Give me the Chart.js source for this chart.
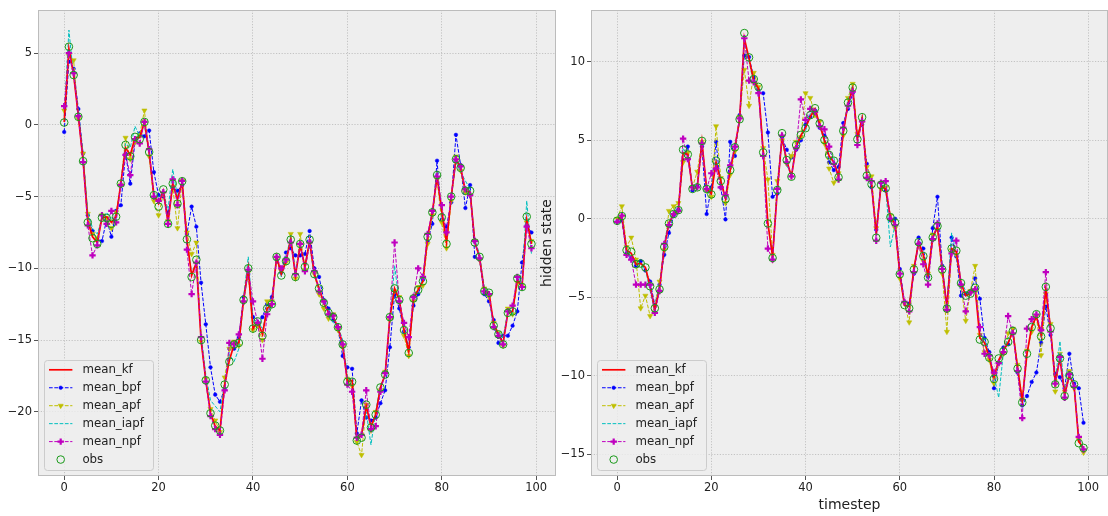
<!DOCTYPE html>
<html>
<head>
<meta charset="utf-8">
<script src="https://cdn.jsdelivr.net/npm/chart.js@4.4.0/dist/chart.umd.min.js"></script>
<style>
  html, body { margin: 0; padding: 0; background: #ffffff; overflow: hidden; }
  #wrap { position: relative; width: 1108px; height: 516px; }
  canvas { position: absolute; top: 0; }
  #chart-left { left: 0; }
  #chart-right { left: 535px; }
</style>
</head>
<body>
<div id="wrap">
  <canvas id="chart-left" width="556" height="516" style="width:556px;height:516px"></canvas>
  <canvas id="chart-right" width="573" height="516" style="width:573px;height:516px"></canvas>
</div>
<script>
// ------------------- data -------------------
const timesteps = Array.from({ length: 100 }, (_, i) => i);
const x_ticks = [0, 20, 40, 60, 80, 100];
const left_y_ticks = [-20, -15, -10, -5, 0, 5];
const right_y_ticks = [-15, -10, -5, 0, 5, 10];
const series_names = ["mean_kf", "mean_bpf", "mean_apf", "mean_iapf", "mean_npf", "obs"];

// left panel
const left_kf = [
  0.2, 5.3, 3.5, 0.6, -2.5, -6.7, -7.8, -8.2, -6.5, -6.4,
  -6.8, -6.4, -4.1, -1.6, -2.1, -0.9, -0.9, 0.2, -1.9, -4.9,
  -5.5, -4.6, -6.8, -4.1, -5.2, -4.0, -8.0, -10.5, -9.6, -15.0,
  -17.8, -20.1, -21.0, -21.3, -18.1, -16.4, -15.3, -15.2, -12.2, -10.0,
  -14.2, -13.7, -14.6, -12.8, -12.5, -9.2, -10.4, -9.5, -8.0, -10.5,
  -8.4, -9.9, -8.1, -10.4, -11.4, -12.4, -13.1, -13.4, -14.1, -15.3,
  -17.9, -17.8, -21.9, -21.6, -19.6, -21.0, -20.2, -18.3, -17.4, -13.4,
  -11.4, -12.2, -14.3, -15.8, -12.1, -11.5, -10.9, -7.8, -6.1, -3.6,
  -6.0, -8.2, -5.0, -2.4, -3.0, -4.6, -4.7, -8.2, -9.2, -11.6,
  -11.7, -13.9, -14.6, -15.2, -13.1, -13.0, -10.8, -11.3, -6.6, -8.3
];
const left_bpf = [
  -0.5, 4.4, 3.9, 1.1, -2.0, -6.3, -7.4, -8.0, -8.1, -6.6,
  -7.8, -6.0, -5.6, -2.0, -4.1, -1.2, -0.6, -0.8, -0.4, -3.3,
  -4.9, -5.0, -6.2, -4.4, -4.6, -4.2, -7.6, -5.7, -7.1, -11.0,
  -13.9, -16.9, -18.8, -19.3, -18.4, -15.6, -15.6, -14.8, -12.0, -10.4,
  -13.4, -14.0, -13.4, -12.5, -12.0, -9.4, -10.3, -8.9, -8.6, -9.1,
  -9.1, -9.0, -7.4, -10.0, -10.6, -12.2, -12.8, -13.6, -14.2, -16.1,
  -16.9, -17.0, -21.5, -19.2, -20.4, -20.6, -20.4, -19.4, -18.5, -15.5,
  -11.8, -12.8, -14.4, -15.5, -12.6, -11.8, -10.8, -8.1, -6.9, -2.5,
  -6.6, -7.1, -5.4, -0.7, -2.8, -5.8, -4.2, -9.2, -9.4, -11.8,
  -12.3, -13.6, -15.2, -14.7, -14.7, -14.0, -13.0, -9.6, -7.0, -7.5
];
const left_apf = [
  1.0, 4.8, 4.5, 0.4, -2.0, -6.2, -7.6, -7.9, -6.3, -6.5,
  -7.2, -6.1, -4.2, -0.9, -2.4, -1.2, -0.7, 1.0, -2.2, -5.3,
  -6.3, -4.8, -6.7, -4.3, -7.2, -3.9, -7.5, -9.0, -8.2, -15.1,
  -17.7, -19.8, -20.6, -21.4, -17.6, -15.6, -15.1, -15.4, -12.4, -10.3,
  -14.3, -14.0, -15.0, -12.3, -12.3, -9.3, -10.2, -9.6, -7.6, -10.7,
  -7.6, -10.1, -8.3, -10.4, -11.8, -12.8, -13.5, -13.2, -14.3, -15.5,
  -17.7, -18.2, -22.1, -23.0, -19.5, -21.3, -20.0, -18.5, -17.2, -13.6,
  -11.6, -12.0, -14.7, -16.1, -12.3, -11.3, -11.2, -8.3, -6.3, -3.8,
  -6.8, -8.6, -5.3, -2.2, -3.2, -4.7, -4.9, -8.1, -9.4, -11.4,
  -12.0, -13.8, -14.5, -15.4, -12.8, -13.2, -11.0, -11.2, -6.8, -8.1
];
const left_iapf = [
  0.6, 6.6, 3.3, 1.0, -2.2, -6.1, -7.2, -7.6, -6.6, -6.1,
  -6.5, -6.6, -4.0, -1.3, -1.6, -0.1, -0.8, 0.0, -2.1, -4.7,
  -5.0, -4.7, -5.9, -3.1, -5.0, -4.1, -8.2, -10.3, -9.6, -14.6,
  -17.4, -19.2, -19.6, -20.0, -18.0, -16.0, -16.5, -15.6, -12.0, -9.2,
  -13.8, -13.5, -14.3, -12.9, -12.7, -9.0, -10.6, -9.3, -7.7, -10.2,
  -8.5, -9.7, -8.4, -10.6, -11.3, -12.6, -13.0, -13.8, -14.0, -15.0,
  -17.5, -18.0, -21.6, -21.7, -20.0, -22.3, -20.0, -18.1, -17.6, -13.8,
  -9.8, -12.4, -14.2, -15.7, -12.0, -11.6, -10.6, -7.6, -6.3, -3.2,
  -6.2, -7.9, -5.1, -2.6, -3.3, -3.9, -4.5, -8.0, -9.0, -11.3,
  -11.9, -14.3, -14.4, -14.8, -13.0, -13.2, -10.5, -11.0, -5.3, -9.0
];
const left_npf = [
  1.3, 5.0, 3.6, 0.6, -2.6, -7.0, -9.1, -8.4, -6.3, -6.9,
  -6.0, -6.8, -4.2, -2.1, -3.5, -1.0, -1.3, 0.2, -1.7, -5.0,
  -5.3, -4.7, -6.9, -3.8, -5.6, -3.9, -8.7, -11.8, -9.6, -14.8,
  -17.9, -20.3, -21.2, -21.6, -18.5, -15.2, -15.3, -14.6, -12.3, -10.1,
  -12.3, -13.8, -16.3, -13.2, -12.5, -9.2, -10.0, -9.4, -8.2, -10.4,
  -8.3, -10.2, -8.2, -10.2, -11.6, -12.3, -13.2, -13.3, -14.1, -15.3,
  -18.1, -18.6, -21.8, -21.6, -18.5, -21.2, -21.0, -18.6, -17.3, -13.4,
  -8.2, -12.3, -13.8, -14.8, -12.0, -10.0, -10.6, -7.6, -6.0, -3.6,
  -5.6, -7.5, -5.0, -2.4, -2.9, -4.5, -4.9, -8.1, -9.3, -11.6,
  -11.8, -14.1, -14.7, -15.3, -13.0, -12.6, -10.6, -11.3, -7.1, -8.6
];
const left_obs = [
  0.16, 5.44, 3.47, 0.56, -2.53, -6.8, -7.9, -8.3, -6.47, -6.5,
  -6.9, -6.4, -4.1, -1.4, -2.2, -0.84, -1.0, 0.2, -1.9, -4.9,
  -5.7, -4.5, -6.9, -4.1, -5.5, -3.93, -7.98, -10.6, -9.4, -15.0,
  -17.8, -20.1, -20.96, -21.3, -18.1, -16.5, -15.3, -15.2, -12.2, -10.0,
  -14.2, -13.7, -14.7, -12.8, -12.5, -9.2, -10.5, -9.5, -8.0, -10.6,
  -8.3, -9.9, -8.0, -10.4, -11.4, -12.4, -13.1, -13.4, -14.1, -15.3,
  -17.9, -17.9, -22.0, -21.8, -19.5, -21.1, -20.2, -18.3, -17.4, -13.4,
  -11.4, -12.2, -14.3, -15.9, -12.1, -11.5, -10.9, -7.8, -6.1, -3.5,
  -6.45, -8.3, -5.0, -2.4, -3.0, -4.6, -4.6, -8.2, -9.2, -11.6,
  -11.7, -14.0, -14.6, -15.3, -13.1, -13.0, -10.7, -11.3, -6.4, -8.3
];

// right panel
const right_kf = [
  -0.1, 0.15, -2.0, -2.2, -2.9, -2.85, -3.1, -4.3, -5.8, -4.5,
  -1.8, -0.3, 0.3, 0.55, 4.2, 4.1, 1.9, 2.0, 4.9, 1.9,
  1.6, 3.6, 2.4, 1.3, 3.1, 4.6, 6.3, 11.5, 10.2, 8.8,
  8.3, 4.3, -0.3, -2.4, 1.8, 5.2, 3.7, 2.7, 4.6, 5.3,
  5.8, 6.5, 7.0, 6.0, 5.0, 4.0, 3.6, 2.7, 5.5, 7.3,
  8.3, 5.1, 6.4, 2.8, 2.2, -1.0, 2.1, 1.9, 0.1, -0.3,
  -3.5, -5.5, -5.6, -3.2, -1.5, -2.3, -3.6, -1.2, -0.5, -3.2,
  -5.6, -1.9, -2.1, -4.1, -4.9, -4.8, -4.4, -7.6, -7.9, -8.8,
  -10.1, -9.0, -8.4, -7.9, -7.2, -9.5, -11.6, -8.6, -6.9, -6.2,
  -7.4, -4.5, -7.0, -10.4, -8.9, -11.2, -10.0, -10.6, -14.2, -14.6
];
const right_bpf = [
  -0.2, -0.1, -2.2, -2.5, -3.0, -2.7, -3.3, -4.0, -5.5, -4.2,
  -2.3, -0.9, 0.2, 0.6, 3.7, 4.6, 1.8, 2.1, 4.6, 0.3,
  2.0, 4.9, 2.0, -0.04, 4.9, 4.0, 6.6, 10.4, 10.3, 9.0,
  8.2, 8.0, 5.5, 1.4, 1.6, 5.2, 4.4, 3.9, 4.4, 5.0,
  6.0, 6.5, 6.9, 5.8, 5.3, 3.6, 3.1, 3.3, 6.1, 7.0,
  8.0, 5.3, 6.0, 3.5, 2.0, -0.7, 2.3, 1.8, -0.1, 0.0,
  -3.2, -5.3, -5.4, -3.5, -1.2, -1.9, -3.7, -0.6, 1.4, -3.0,
  -5.6, -1.2, -2.4, -4.9, -4.8, -4.6, -3.8, -5.1, -7.6, -8.5,
  -10.8, -9.2, -8.2, -8.0, -7.0, -9.8, -11.9, -11.3, -10.4, -9.8,
  -7.9, -5.6, -7.4, -9.9, -10.1, -10.8, -8.6, -10.5, -10.8, -13.0
];
const right_apf = [
  0.0, 0.8, -1.8, -1.2, -2.6, -5.7, -4.9, -6.2, -5.6, -4.0,
  -2.0, 0.5, 0.8, 1.0, 3.6, 4.2, 2.0, 3.0, 4.9, 1.8,
  1.4, 5.9, 2.6, 1.0, 2.8, 4.3, 6.5, 9.5, 7.2, 9.3,
  8.4, 4.5, 2.5, -2.3, 2.4, 5.0, 3.5, 4.0, 4.9, 5.2,
  8.0, 7.7, 6.6, 6.2, 4.8, 3.2, 2.3, 2.9, 5.3, 7.7,
  8.6, 5.4, 6.1, 3.3, 2.7, -0.6, 1.9, 2.0, 0.2, -0.6,
  -3.8, -5.4, -6.6, -3.0, -1.7, -2.7, -3.5, -1.0, -0.7, -3.5,
  -7.2, -2.0, -2.3, -4.3, -6.5, -4.6, -3.0, -7.4, -8.5, -9.0,
  -10.5, -9.2, -8.6, -7.3, -7.0, -9.3, -11.5, -8.4, -7.2, -6.2,
  -8.7, -4.8, -6.7, -11.0, -8.6, -11.0, -9.7, -10.8, -14.1, -14.9
];
const right_iapf = [
  -0.2, 0.3, -2.1, -2.3, -2.9, -3.0, -3.2, -4.6, -5.9, -4.3,
  -1.5, -0.2, 0.4, 0.6, 4.5, 4.0, 1.9, 2.2, 4.9, 1.7,
  1.6, 3.8, 2.5, 1.2, 3.3, 4.7, 6.1, 11.3, 10.0, 8.6,
  8.1, 4.1, -0.4, -2.4, 2.1, 5.3, 3.4, 2.8, 4.8, 5.4,
  5.6, 6.7, 7.1, 5.9, 4.9, 4.3, 3.9, 2.6, 5.6, 7.5,
  8.5, 5.0, 6.6, 2.5, 2.1, -0.9, 2.2, 2.0, -1.8, -0.4,
  -3.4, -5.6, -5.5, -3.3, -1.4, -2.4, -3.8, -1.3, -0.4, -3.0,
  -5.5, -0.9, -2.1, -4.0, -4.6, -4.9, -4.5, -7.3, -7.6, -8.8,
  -10.0, -11.4, -8.5, -7.6, -7.3, -9.4, -11.8, -8.7, -6.8, -6.1,
  -7.6, -4.3, -7.1, -10.3, -7.8, -11.2, -9.8, -10.6, -14.0, -14.9
];
const right_npf = [
  -0.2, 0.2, -2.3, -2.6, -4.2, -4.2, -4.2, -4.2, -6.0, -4.6,
  -1.6, -0.4, 0.3, 0.5, 5.1, 3.8, 2.0, 2.0, 4.8, 1.9,
  2.9, 3.2, 2.0, 1.5, 3.4, 4.6, 6.4, 11.5, 8.8, 8.7,
  8.0, 4.0, -1.9, -2.6, 1.9, 5.3, 3.6, 2.7, 4.5, 7.6,
  6.3, 7.0, 6.8, 5.9, 5.7, 4.6, 3.5, 2.5, 5.8, 7.2,
  8.1, 4.7, 6.2, 2.6, 2.4, -1.4, 2.3, 2.4, 0.0, -0.4,
  -3.5, -5.3, -5.9, -3.4, -1.6, -2.9, -4.2, -1.3, -0.3, -3.2,
  -5.8, -2.2, -1.4, -4.2, -5.9, -4.7, -4.5, -6.9, -8.6, -8.7,
  -9.8, -9.2, -8.5, -6.2, -7.3, -9.7, -12.7, -7.0, -6.4, -6.1,
  -7.1, -3.4, -7.2, -10.5, -8.8, -11.4, -9.9, -10.7, -13.9, -14.7
];
const right_obs = [
  -0.13, 0.17, -2.0, -2.1, -2.9, -2.85, -3.1, -4.3, -5.7, -4.5,
  -1.8, -0.3, 0.3, 0.55, 4.4, 4.1, 1.9, 2.0, 4.96, 1.9,
  1.55, 3.7, 2.4, 1.25, 3.1, 4.55, 6.34, 11.83, 10.28, 8.9,
  8.4, 4.23, -0.3, -2.5, 1.83, 5.45, 3.74, 2.68, 4.7, 5.34,
  5.77, 6.6, 7.04, 6.08, 5.02, 4.06, 3.7, 2.64, 5.6, 7.4,
  8.36, 5.06, 6.47, 2.74, 2.2, -1.21, 2.15, 1.94, 0.1, -0.25,
  -3.53, -5.5, -5.7, -3.23, -1.49, -2.38, -3.74, -1.19, -0.47, -3.23,
  -5.72, -1.9, -2.04, -4.1, -4.9, -4.77, -4.4, -7.7, -7.85, -8.85,
  -10.2, -8.9, -8.45, -7.85, -7.15, -9.55, -11.7, -8.6, -6.9, -6.08,
  -7.5, -4.34, -6.98, -10.55, -8.9, -11.3, -9.98, -10.55, -14.3, -14.6
];

// ------------------- styling helpers -------------------
const FONT = "'DejaVu Sans', sans-serif";
const dash = [3.7, 1.6];

function make_datasets(kf, bpf, apf, iapf, npf, obs) {
  return [
    { label: series_names[0], data: kf, borderColor: "#ff0000", borderWidth: 1.7,
      pointRadius: 0, order: 3.5 },
    { label: series_names[1], data: bpf, borderColor: "#0000ff", borderWidth: 1, borderDash: dash,
      pointStyle: "circle", pointRadius: 1.8, pointBackgroundColor: "#0000ff",
      pointBorderColor: "#0000ff", pointBorderWidth: 0.5, order: 6 },
    { label: series_names[2], data: apf, borderColor: "#bfbf00", borderWidth: 1, borderDash: dash,
      pointStyle: "triangle", pointRotation: 180, pointRadius: 3, pointBackgroundColor: "#bfbf00",
      pointBorderColor: "#bfbf00", pointBorderWidth: 0.5, order: 5 },
    { label: series_names[3], data: iapf, borderColor: "#00bfbf", borderWidth: 1, borderDash: dash,
      pointRadius: 0, order: 4 },
    { label: series_names[4], data: npf, borderColor: "#bf00bf", borderWidth: 1, borderDash: dash,
      pointStyle: "cross", pointRadius: 3.2, pointBorderColor: "#bf00bf",
      pointBorderWidth: 2.2, order: 2 },
    { label: series_names[5], data: obs, showLine: false, pointStyle: "circle", pointRadius: 3.8,
      pointBackgroundColor: "rgba(0,0,0,0)", pointBorderColor: "#1a9a1a",
      pointBorderWidth: 1, order: 1 }
  ];
}

function minus_label(v) {
  return v < 0 ? "\u2212" + Math.abs(v) : String(v);
}

function make_scales(y_min, y_max, y_ticks, y_width, y_title, x_title) {
  const grid = { color: "#b8b8b8", lineWidth: 0.8, tickLength: 4, tickColor: "#555555", tickWidth: 1 };
  const tick_font = { family: FONT, size: 11.5 };
  return {
    x: {
      type: "linear", min: -5.55, max: 104.2,
      afterBuildTicks: s => { s.ticks = x_ticks.map(v => ({ value: v })); },
      afterFit: s => { s.height = 40; s.paddingLeft = 0; s.paddingRight = 0; },
      grid: grid,
      border: { display: false, dash: [1.2, 1.6] },
      ticks: { color: "#222222", font: tick_font, padding: 1, maxRotation: 0, autoSkip: false, callback: minus_label },
      title: { display: !!x_title, text: x_title || "", color: "#222222",
               font: { family: FONT, size: 14 }, padding: { top: 0, bottom: 2 } }
    },
    y: {
      type: "linear", min: y_min, max: y_max,
      afterBuildTicks: s => { s.ticks = y_ticks.map(v => ({ value: v })); },
      afterFit: s => { s.width = y_width; s.paddingTop = 0; s.paddingBottom = 0; },
      grid: grid,
      border: { display: false, dash: [1.2, 1.6] },
      ticks: { color: "#222222", font: tick_font, padding: 2, autoSkip: false, callback: minus_label },
      title: { display: !!y_title, text: y_title || "", color: "#222222",
               font: { family: FONT, size: 14 }, padding: { top: 4, bottom: 0 } }
    }
  };
}

// small marker painter, used by the legend box
function draw_marker(ctx, ds, x, y) {
  const r = ds.pointRadius;
  if (!r) return;
  ctx.save();
  ctx.lineWidth = ds.pointBorderWidth || 1;
  ctx.strokeStyle = ds.pointBorderColor;
  ctx.fillStyle = ds.pointBackgroundColor || "rgba(0,0,0,0)";
  ctx.beginPath();
  if (ds.pointStyle === "circle") {
    ctx.arc(x, y, r, 0, Math.PI * 2);
    ctx.fill();
    ctx.stroke();
  } else if (ds.pointStyle === "triangle") {
    let rad = (ds.pointRotation || 0) * Math.PI / 180;
    ctx.moveTo(x + Math.sin(rad) * r, y - Math.cos(rad) * r);
    rad += 2 * Math.PI / 3;
    ctx.lineTo(x + Math.sin(rad) * r, y - Math.cos(rad) * r);
    rad += 2 * Math.PI / 3;
    ctx.lineTo(x + Math.sin(rad) * r, y - Math.cos(rad) * r);
    ctx.closePath();
    ctx.fill();
    ctx.stroke();
  } else if (ds.pointStyle === "cross") {
    ctx.moveTo(x - r, y); ctx.lineTo(x + r, y);
    ctx.moveTo(x, y - r); ctx.lineTo(x, y + r);
    ctx.stroke();
  }
  ctx.restore();
}

// axes background, frame and the legend inside the lower left corner
const bmh_plugin = {
  id: "bmh",
  beforeDraw(chart) {
    const { ctx, chartArea: a } = chart;
    ctx.save();
    ctx.fillStyle = "#eeeeee";
    ctx.fillRect(a.left, a.top, a.right - a.left, a.bottom - a.top);
    ctx.restore();
  },
  afterDatasetsDraw(chart) {
    const { ctx, chartArea: a } = chart;
    ctx.save();
    ctx.strokeStyle = "#bcbcbc";
    ctx.lineWidth = 1;
    ctx.strokeRect(a.left + 0.5, a.top + 0.5, a.right - a.left - 1, a.bottom - a.top - 1);
    ctx.restore();
  },
  afterDraw(chart) {
    const { ctx, chartArea: a } = chart;
    const x0 = a.left + 6, y0 = a.bottom - 116, w = 109, h = 110;
    ctx.save();
    ctx.beginPath();
    ctx.roundRect(x0 + 0.5, y0 + 0.5, w, h, 3);
    ctx.fillStyle = "rgba(238,238,238,0.8)";
    ctx.fill();
    ctx.strokeStyle = "#cccccc";
    ctx.lineWidth = 1;
    ctx.stroke();

    chart.data.datasets.forEach((ds, i) => {
      const y = y0 + 9.8 + i * 17.95;
      const lx0 = x0 + 5, lx1 = x0 + 28.4, mx = (lx0 + lx1) / 2;
      if (ds.showLine !== false) {
        ctx.save();
        ctx.setLineDash(ds.borderDash || []);
        ctx.strokeStyle = ds.borderColor;
        ctx.lineWidth = ds.borderWidth;
        ctx.beginPath();
        ctx.moveTo(lx0, y);
        ctx.lineTo(lx1, y);
        ctx.stroke();
        ctx.restore();
      }
      draw_marker(ctx, ds, mx, y);
      ctx.fillStyle = "#222222";
      ctx.font = "11.8px " + FONT;
      ctx.textBaseline = "middle";
      ctx.textAlign = "left";
      ctx.fillText(ds.label, x0 + 38.4, y);
    });
    ctx.restore();
  }
};

function make_chart(canvas_id, datasets, scales) {
  const ctx = document.getElementById(canvas_id).getContext("2d");
  return new Chart(ctx, {
    type: "line",
    data: { labels: timesteps, datasets: datasets },
    options: {
      responsive: false,
      animation: false,
      devicePixelRatio: 1,
      events: [],
      layout: { autoPadding: false, padding: { top: 10, right: 0, bottom: 0, left: 0 } },
      elements: { line: { tension: 0, fill: false } },
      scales: scales,
      plugins: { legend: { display: false }, tooltip: { enabled: false } }
    },
    plugins: [bmh_plugin]
  });
}

// ------------------- draw both panels -------------------
make_chart("chart-left",
  make_datasets(left_kf, left_bpf, left_apf, left_iapf, left_npf, left_obs),
  make_scales(-24.47, 8.0, left_y_ticks, 38, null, null));

make_chart("chart-right",
  make_datasets(right_kf, right_bpf, right_apf, right_iapf, right_npf, right_obs),
  make_scales(-16.39, 13.3, right_y_ticks, 56, "hidden state", "timestep"));
</script>
</body>
</html>
